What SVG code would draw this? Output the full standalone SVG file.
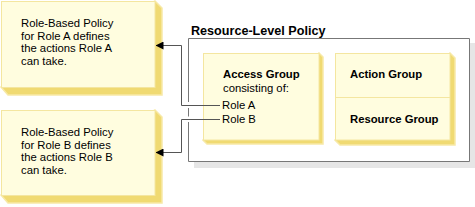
<svg xmlns="http://www.w3.org/2000/svg" width="475" height="207" viewBox="0 0 475 207">
<style>
.face{fill:#fffddf;stroke:#f4e6a0;stroke-width:1}
.sh{fill:#f0da72;stroke:#f7e9a6;stroke-width:1.5}
.t{font-family:"Liberation Sans",Arial,sans-serif;font-size:11.3px;fill:#000}
.b{font-weight:bold}
.con{fill:none;stroke:#555;stroke-width:1}
.rl{fill:none;stroke:#777;stroke-width:1}
</style>
<defs>
<marker id="ah" viewBox="0 0 8 8" refX="7.5" refY="4" markerWidth="8" markerHeight="8" markerUnits="userSpaceOnUse" orient="auto">
<path d="M0,0 L8,4 L0,8 z" fill="#000"/>
</marker>
</defs>
<rect width="475" height="207" fill="#fff"/>

<g id="roleA">
<polygon class="sh" points="155,1 162,8 162,95 8,95 1,87"/>
<rect class="face" x="1.5" y="1.5" width="153.5" height="86"/>
<text class="t" x="21" y="27">Role-Based Policy</text>
<text class="t" x="21" y="39.7">for Role A defines</text>
<text class="t" x="21" y="52.4">the actions Role A</text>
<text class="t" x="21" y="65.1">can take.</text>
</g>

<g id="roleB">
<polygon class="sh" points="155,110 162,117 162,203 8,203 1,195"/>
<rect class="face" x="1.5" y="110.5" width="153.5" height="85"/>
<text class="t" x="21" y="136">Role-Based Policy</text>
<text class="t" x="21" y="148.7">for Role B defines</text>
<text class="t" x="21" y="161.4">the actions Role B</text>
<text class="t" x="21" y="174.1">can take.</text>
</g>

<g id="resourceLevel">
<rect x="469" y="43" width="6" height="125" fill="#e6e6e6"/>
<rect x="194" y="161.5" width="281" height="6.5" fill="#e6e6e6"/>
<rect x="188.5" y="38.5" width="280.5" height="123" fill="#fff" stroke="none"/>
<path class="rl" d="M188.5,161.5 V122 M188.5,116.5 V108 M188.5,102 V38.5 H469.5 V161.5 H188.5"/>
<text class="t b" x="191" y="35" style="font-size:12.6px">Resource-Level Policy</text>
</g>

<g id="accessGroup">
<polygon class="sh" points="319,53 323,57 323,144 207,144 203,140"/>
<rect class="face" x="203.5" y="53.5" width="115.5" height="86.5"/>
<text class="t b" x="223" y="78">Access Group</text>
<text class="t" x="223" y="91.5">consisting of:</text>
<text class="t" x="222" y="109">Role A</text>
<text class="t" x="222" y="123">Role B</text>
</g>

<g id="actionResource">
<polygon class="sh" points="450,53 455,58 455,145 340,145 335,140"/>
<rect class="face" x="335.5" y="53.5" width="114.5" height="86.5"/>
<line x1="336" y1="97.5" x2="450" y2="97.5" stroke="#f4e6a0"/>
<text class="t b" x="350" y="78">Action Group</text>
<text class="t b" x="350" y="122.5">Resource Group</text>
</g>

<g id="connectors">
<path class="con" d="M220,105.5 H181.5 V45.5 H156" marker-end="url(#ah)"/>
<path class="con" d="M220,119.5 H181.5 V152.5 H156" marker-end="url(#ah)"/>
</g>
</svg>
